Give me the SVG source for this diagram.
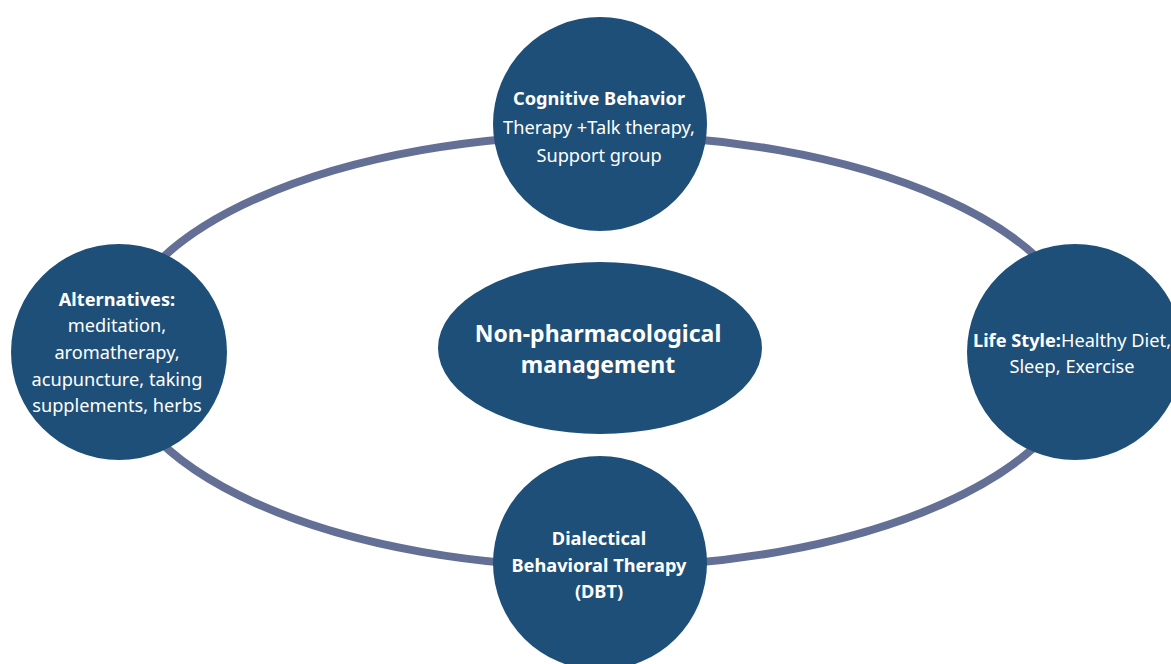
<svg xmlns="http://www.w3.org/2000/svg" width="1171" height="664" viewBox="0 0 1171 664">
  <style>
    .node { fill: #1e4f78; }
    .ring { fill: none; stroke: #646f96; stroke-width: 8; }
    text { fill: #ffffff; font-family: "Noto Sans", "Open Sans", sans-serif; text-anchor: middle; }
    .t { font-size: 18.2px; }
    .b { font-weight: bold; }
    .title { font-size: 23px; font-weight: bold; }
  </style>
  <rect width="1171" height="664" fill="#ffffff"/>

  <!-- ring linking the four approaches -->
  <g id="connectors">
    <ellipse class="ring" cx="600" cy="351" rx="485" ry="216"/>
  </g>

  <!-- central topic -->
  <g id="center">
    <ellipse class="node" cx="600" cy="348" rx="162" ry="86"/>
    <text class="title" x="598" y="342">Non-pharmacological</text>
    <text class="title" x="598" y="373">management</text>
  </g>

  <!-- top: cognitive behavior therapy -->
  <g id="cbt">
    <circle class="node" cx="600" cy="124" r="107"/>
    <text class="t b" x="599" y="105">Cognitive Behavior</text>
    <text class="t" x="599" y="134">Therapy +Talk therapy,</text>
    <text class="t" x="599" y="162">Support group</text>
  </g>

  <!-- left: alternatives -->
  <g id="alternatives">
    <circle class="node" cx="119" cy="352" r="108"/>
    <text class="t b" x="117" y="306">Alternatives:</text>
    <text class="t" x="117" y="332">meditation,</text>
    <text class="t" x="117" y="359">aromatherapy,</text>
    <text class="t" x="117" y="386">acupuncture, taking</text>
    <text class="t" x="117" y="412">supplements, herbs</text>
  </g>

  <!-- right: life style -->
  <g id="lifestyle">
    <circle class="node" cx="1075" cy="352" r="108"/>
    <text class="t" x="1072" y="347"><tspan class="b">Life Style:</tspan>Healthy Diet,</text>
    <text class="t" x="1072" y="373">Sleep, Exercise</text>
  </g>

  <!-- bottom: dialectical behavioral therapy -->
  <g id="dbt">
    <circle class="node" cx="600" cy="563" r="107"/>
    <text class="t b" x="599" y="545">Dialectical</text>
    <text class="t b" x="599" y="572">Behavioral Therapy</text>
    <text class="t b" x="599" y="598">(DBT)</text>
  </g>
</svg>
